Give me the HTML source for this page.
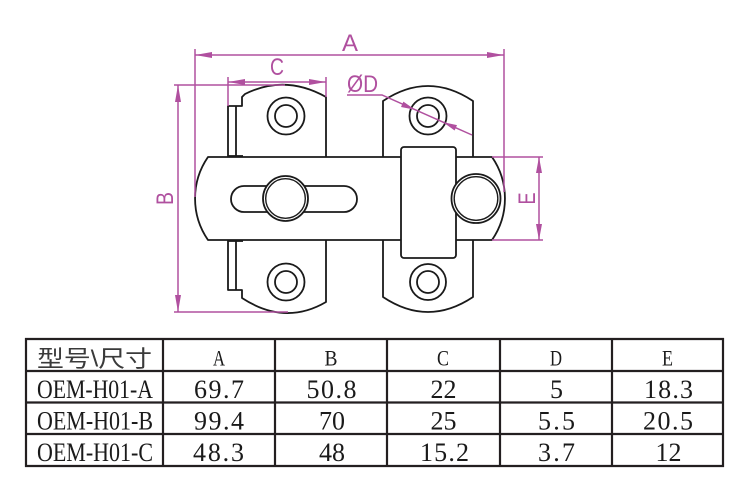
<!DOCTYPE html>
<html><head><meta charset="utf-8"><style>
html,body{margin:0;padding:0;background:#fff;}
svg{display:block;}
</style></head><body>
<svg width="750" height="500" viewBox="0 0 750 500" xmlns="http://www.w3.org/2000/svg">
<rect width="750" height="500" fill="#fff"/>
<!-- drawing -->
<g fill="#fff" stroke="#1a1a1a" stroke-width="1.8" stroke-linejoin="round">
  <!-- left top plate -->
  <path d="M228,158 L228,106 L242,106 L242,97 L245,94 Q285,74 326,97 L326,158"/>
  <line x1="236" y1="106" x2="236" y2="157"/>
  <line x1="228" y1="156" x2="243" y2="156"/>
  <circle cx="286" cy="116" r="18.5"/>
  <circle cx="286" cy="116" r="11"/>
  <!-- left bottom plate -->
  <path d="M228,239 L228,290 L242,290 L242,298 Q285,326 326,302 L326,239"/>
  <line x1="236" y1="240" x2="236" y2="290"/>
  <line x1="228" y1="241" x2="243" y2="241"/>
  <circle cx="286" cy="282" r="18.5"/>
  <circle cx="286" cy="282" r="11"/>
  <!-- right top plate -->
  <path d="M383,158 L383,101 Q428,71 473,101 L473,158"/>
  <circle cx="428" cy="116" r="18.5"/>
  <circle cx="428" cy="116" r="11"/>
  <!-- right bottom plate -->
  <path d="M383,239 L383,297 Q428,327 473,297 L473,239"/>
  <circle cx="428" cy="282" r="18"/>
  <circle cx="428" cy="282" r="11"/>
  <!-- body -->
  <path d="M208,157 L492,157 A73,73 0 0 1 492,240 L208,240 A73,73 0 0 1 208,157 Z"/>
  <!-- slot -->
  <rect x="231" y="186" width="126" height="26" rx="13" ry="13"/>
  <!-- left knob -->
  <circle cx="285.5" cy="198.5" r="22.5"/>
  <circle cx="285.5" cy="198.5" r="19.8" stroke-width="1.4"/>
  <!-- strike rectangle -->
  <rect x="401" y="147" width="55" height="111" rx="3" ry="3"/>
  <!-- right knob -->
  <circle cx="476" cy="198.5" r="24.5"/>
  <circle cx="476" cy="198.5" r="21.8" stroke-width="1.4"/>
</g>

<!-- dimensions -->
<g stroke="#b0509f" stroke-width="1.5" fill="none">
  <!-- A -->
  <line x1="195" y1="49" x2="195" y2="197"/>
  <line x1="504" y1="49" x2="504" y2="192"/>
  <line x1="195" y1="55" x2="504" y2="55"/>
  <!-- C -->
  <line x1="228" y1="77" x2="228" y2="106"/>
  <line x1="326" y1="77" x2="326" y2="97"/>
  <line x1="228" y1="82" x2="326" y2="82"/>
  <!-- B -->
  <line x1="174" y1="85" x2="285" y2="85"/>
  <line x1="174" y1="312" x2="288" y2="312"/>
  <line x1="178" y1="85" x2="178" y2="312"/>
  <!-- E -->
  <line x1="492" y1="157" x2="543" y2="157"/>
  <line x1="492" y1="240" x2="543" y2="240"/>
  <line x1="539" y1="157" x2="539" y2="240"/>
  <!-- D leader -->
  <polyline points="347,95 382,95 472,135"/>
</g>
<g fill="#b0509f" stroke="none">
  <polygon points="195,55 212,52 212,58"/>
  <polygon points="504,55 487,52 487,58"/>
  <polygon points="228,82 245,79 245,85"/>
  <polygon points="326,82 309,79 309,85"/>
  <polygon points="178,85 175,102 181,102"/>
  <polygon points="178,312 175,295 181,295"/>
  <polygon points="539,157 536,173 542,173"/>
  <polygon points="539,240 536,224 542,224"/>
  <polygon points="415,109.7 401.0,107.0 403.4,101.6"/>
  <polygon points="443,122.1 454.6,130.5 457.0,125.1"/>
</g>
<g fill="#b0509f" font-family="Liberation Sans, sans-serif" font-size="24">
  <text x="350" y="51" text-anchor="middle" textLength="16" lengthAdjust="spacingAndGlyphs">A</text>
  <text x="277" y="75" text-anchor="middle" textLength="14" lengthAdjust="spacingAndGlyphs">C</text>
  <text x="347" y="92" textLength="31" lengthAdjust="spacingAndGlyphs">ØD</text>
  <text transform="translate(173,198.5) rotate(-90)" text-anchor="middle" textLength="13" lengthAdjust="spacingAndGlyphs">B</text>
  <text transform="translate(535,198.5) rotate(-90)" text-anchor="middle" textLength="12" lengthAdjust="spacingAndGlyphs">E</text>
</g>

<!-- table -->
<g stroke="#231f20" stroke-width="2.2">
  <line x1="25" y1="339" x2="724" y2="339"/>
  <line x1="25" y1="371" x2="724" y2="371"/>
  <line x1="25" y1="402.5" x2="724" y2="402.5"/>
  <line x1="25" y1="434" x2="724" y2="434"/>
  <line x1="25" y1="466" x2="724" y2="466"/>
  <line x1="26" y1="338" x2="26" y2="467"/>
  <line x1="163" y1="338" x2="163" y2="467"/>
  <line x1="275" y1="338" x2="275" y2="467"/>
  <line x1="387" y1="338" x2="387" y2="467"/>
  <line x1="500" y1="338" x2="500" y2="467"/>
  <line x1="612" y1="338" x2="612" y2="467"/>
  <line x1="723" y1="338" x2="723" y2="467"/>
</g>
<g fill="#1a1a1a" font-family="Liberation Serif, serif">
  <text x="37" y="366.5" fill="#3a3a3a" font-family="Liberation Sans, 'Noto Sans CJK SC', sans-serif" font-size="23" textLength="115" lengthAdjust="spacingAndGlyphs">型号\尺寸</text>
  <g font-size="22.5" text-anchor="middle">
    <text x="219" y="365.5" textLength="12" lengthAdjust="spacingAndGlyphs">A</text>
    <text x="331" y="365.5" textLength="13" lengthAdjust="spacingAndGlyphs">B</text>
    <text x="443" y="365.5" textLength="12" lengthAdjust="spacingAndGlyphs">C</text>
    <text x="556" y="365.5" textLength="12" lengthAdjust="spacingAndGlyphs">D</text>
    <text x="667.5" y="365.5" textLength="11" lengthAdjust="spacingAndGlyphs">E</text>
  </g>
  <g font-size="26">
    <text x="37" y="398" textLength="116" lengthAdjust="spacingAndGlyphs">OEM-H01-A</text>
    <text x="37" y="429.5" textLength="116" lengthAdjust="spacingAndGlyphs">OEM-H01-B</text>
    <text x="37" y="461" textLength="116" lengthAdjust="spacingAndGlyphs">OEM-H01-C</text>
  </g>
  <g font-size="26" text-anchor="middle">
    <text x="219" y="398" textLength="50" lengthAdjust="spacing">69.7</text>
    <text x="331.5" y="398" textLength="50" lengthAdjust="spacing">50.8</text>
    <text x="443.5" y="398">22</text>
    <text x="556.5" y="398">5</text>
    <text x="668.5" y="398" textLength="49" lengthAdjust="spacing">18.3</text>

    <text x="219" y="429.5" textLength="50" lengthAdjust="spacing">99.4</text>
    <text x="332" y="429.5">70</text>
    <text x="443.5" y="429.5">25</text>
    <text x="556.5" y="429.5" textLength="37" lengthAdjust="spacing">5.5</text>
    <text x="668" y="429.5" textLength="50" lengthAdjust="spacing">20.5</text>

    <text x="218.5" y="461" textLength="51" lengthAdjust="spacing">48.3</text>
    <text x="332" y="461">48</text>
    <text x="444.5" y="461" textLength="49" lengthAdjust="spacing">15.2</text>
    <text x="556.5" y="461" textLength="37" lengthAdjust="spacing">3.7</text>
    <text x="668.5" y="461">12</text>
  </g>
</g>
</svg>
</body></html>
